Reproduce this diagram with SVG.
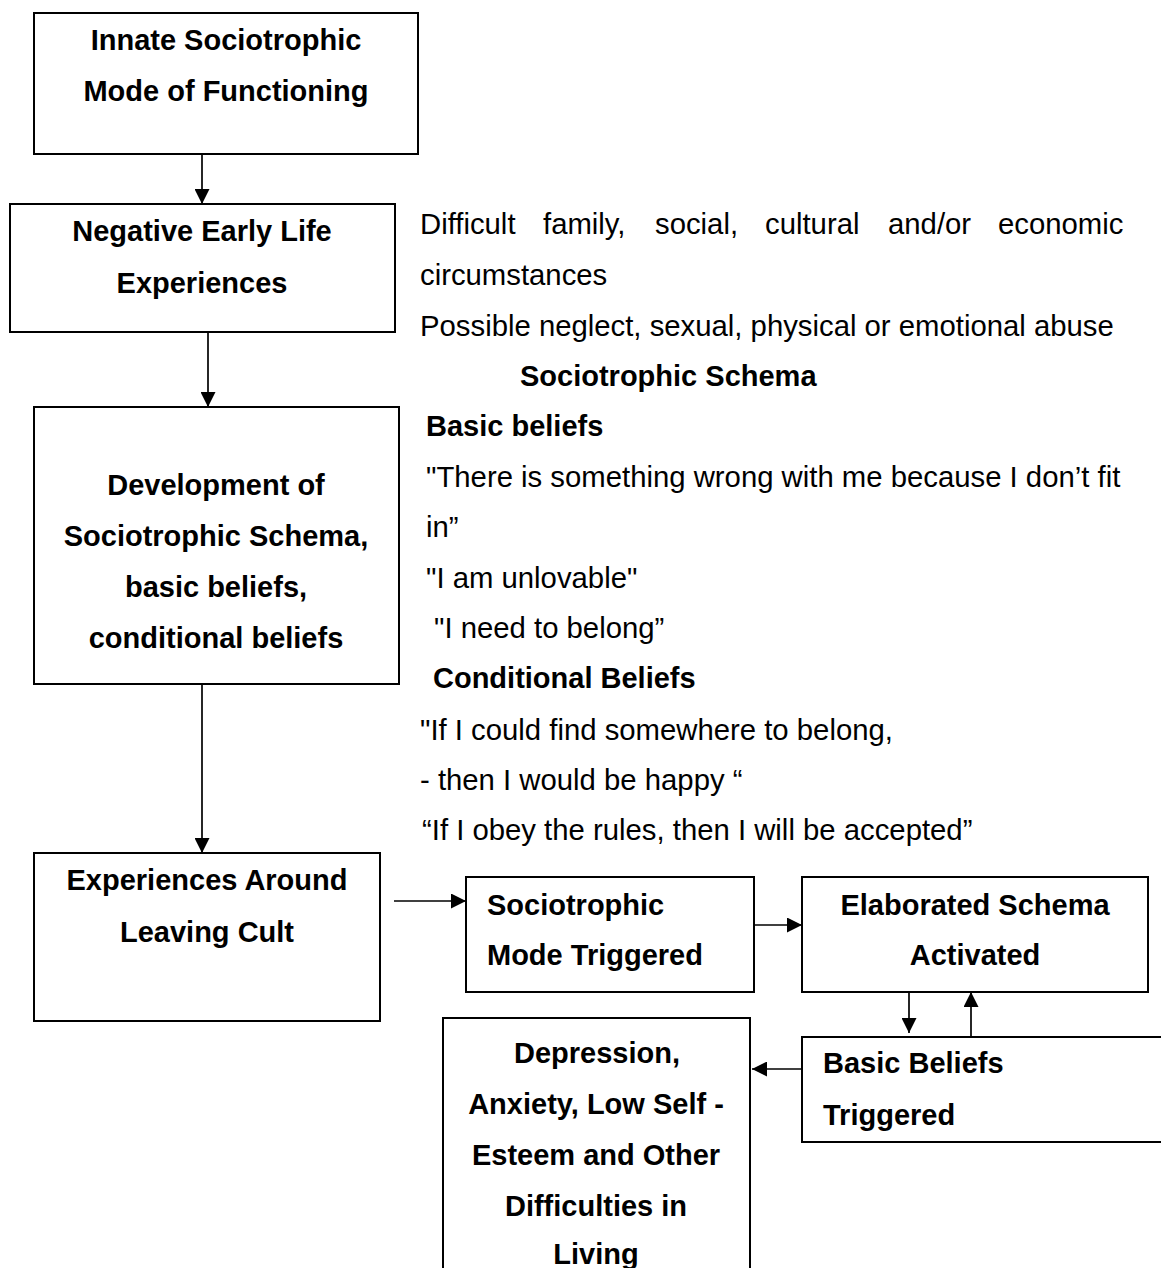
<svg xmlns="http://www.w3.org/2000/svg" width="1161" height="1268" viewBox="0 0 1161 1268">
<style>
.box{fill:#fff;stroke:#000;stroke-width:2}
.b{font-family:"Liberation Sans",Arial,sans-serif;font-size:29px;font-weight:bold;fill:#000}
.r{font-family:"Liberation Sans",Arial,sans-serif;font-size:29.3px;fill:#000}
.c{text-anchor:middle}
.ln{stroke:#000;stroke-width:1.7;fill:none;marker-end:url(#ah)}
</style>
<defs>
<marker id="ah" viewBox="0 0 10 10" refX="10" refY="5" markerWidth="15" markerHeight="15" markerUnits="userSpaceOnUse" orient="auto">
<path d="M0,0 L10,5 L0,10 Z" fill="#000"/>
</marker>
</defs>
<rect width="1161" height="1268" fill="#fff"/>

<g id="connectors">
<line class="ln" x1="202" y1="155" x2="202" y2="204"/>
<line class="ln" x1="208" y1="332" x2="208" y2="407"/>
<line class="ln" x1="202" y1="684" x2="202" y2="853"/>
<line class="ln" x1="394" y1="901" x2="466" y2="901"/>
<line class="ln" x1="754" y1="925" x2="802" y2="925"/>
<line class="ln" x1="909" y1="984" x2="909" y2="1033"/>
<line class="ln" x1="971" y1="1037" x2="971" y2="992"/>
<line class="ln" x1="802" y1="1069" x2="752" y2="1069"/>
</g>

<g id="innate">
<rect class="box" x="34" y="13" width="384" height="141"/>
<text class="b c" x="226" y="50">Innate Sociotrophic</text>
<text class="b c" x="226" y="101">Mode of Functioning</text>
</g>

<g id="negative">
<rect class="box" x="10" y="204" width="385" height="128"/>
<text class="b c" x="202" y="241">Negative Early Life</text>
<text class="b c" x="202" y="293">Experiences</text>
</g>

<g id="development">
<rect class="box" x="34" y="407" width="365" height="277"/>
<text class="b c" x="216" y="495">Development of</text>
<text class="b c" x="216" y="546">Sociotrophic Schema,</text>
<text class="b c" x="216" y="597">basic beliefs,</text>
<text class="b c" x="216" y="648">conditional beliefs</text>
</g>

<g id="leaving">
<rect class="box" x="34" y="853" width="346" height="168"/>
<text class="b c" x="207" y="890">Experiences Around</text>
<text class="b c" x="207" y="942">Leaving Cult</text>
</g>

<g id="mode-triggered">
<rect class="box" x="466" y="877" width="288" height="115"/>
<text class="b" x="487" y="915">Sociotrophic</text>
<text class="b" x="487" y="965">Mode Triggered</text>
</g>

<g id="elaborated">
<rect class="box" x="802" y="877" width="346" height="115"/>
<text class="b c" x="975" y="915">Elaborated Schema</text>
<text class="b c" x="975" y="965">Activated</text>
</g>

<g id="basic-triggered">
<rect class="box" x="802" y="1037" width="380" height="105"/>
<text class="b" x="823" y="1073">Basic Beliefs</text>
<text class="b" x="823" y="1125">Triggered</text>
</g>

<g id="depression">
<rect class="box" x="443" y="1018" width="307" height="270"/>
<text class="b c" x="597" y="1063">Depression,</text>
<text class="b c" x="596" y="1114">Anxiety, Low Self -</text>
<text class="b c" x="596" y="1165">Esteem and Other</text>
<text class="b c" x="596" y="1216">Difficulties in</text>
<text class="b c" x="596" y="1264">Living</text>
</g>

<g id="notes">
<text class="r" y="234"><tspan x="420">Difficult</tspan><tspan x="543">family,</tspan><tspan x="655">social,</tspan><tspan x="765">cultural</tspan><tspan x="888">and/or</tspan><tspan x="998">economic</tspan></text>
<text class="r" x="420" y="285">circumstances</text>
<text class="r" x="420" y="336">Possible neglect, sexual, physical or emotional abuse</text>
<text class="b" x="520" y="386">Sociotrophic Schema</text>
<text class="b" x="426" y="436">Basic beliefs</text>
<text class="r" x="426" y="487">"There is something wrong with me because I don’t fit</text>
<text class="r" x="426" y="537">in”</text>
<text class="r" x="426" y="588">"I am unlovable"</text>
<text class="r" x="434" y="638">"I need to belong”</text>
<text class="b" x="433" y="688">Conditional Beliefs</text>
<text class="r" x="420" y="740">"If I could find somewhere to belong,</text>
<text class="r" x="420" y="790">- then I would be happy “</text>
<text class="r" x="422" y="840">“If I obey the rules, then I will be accepted”</text>
</g>
</svg>
